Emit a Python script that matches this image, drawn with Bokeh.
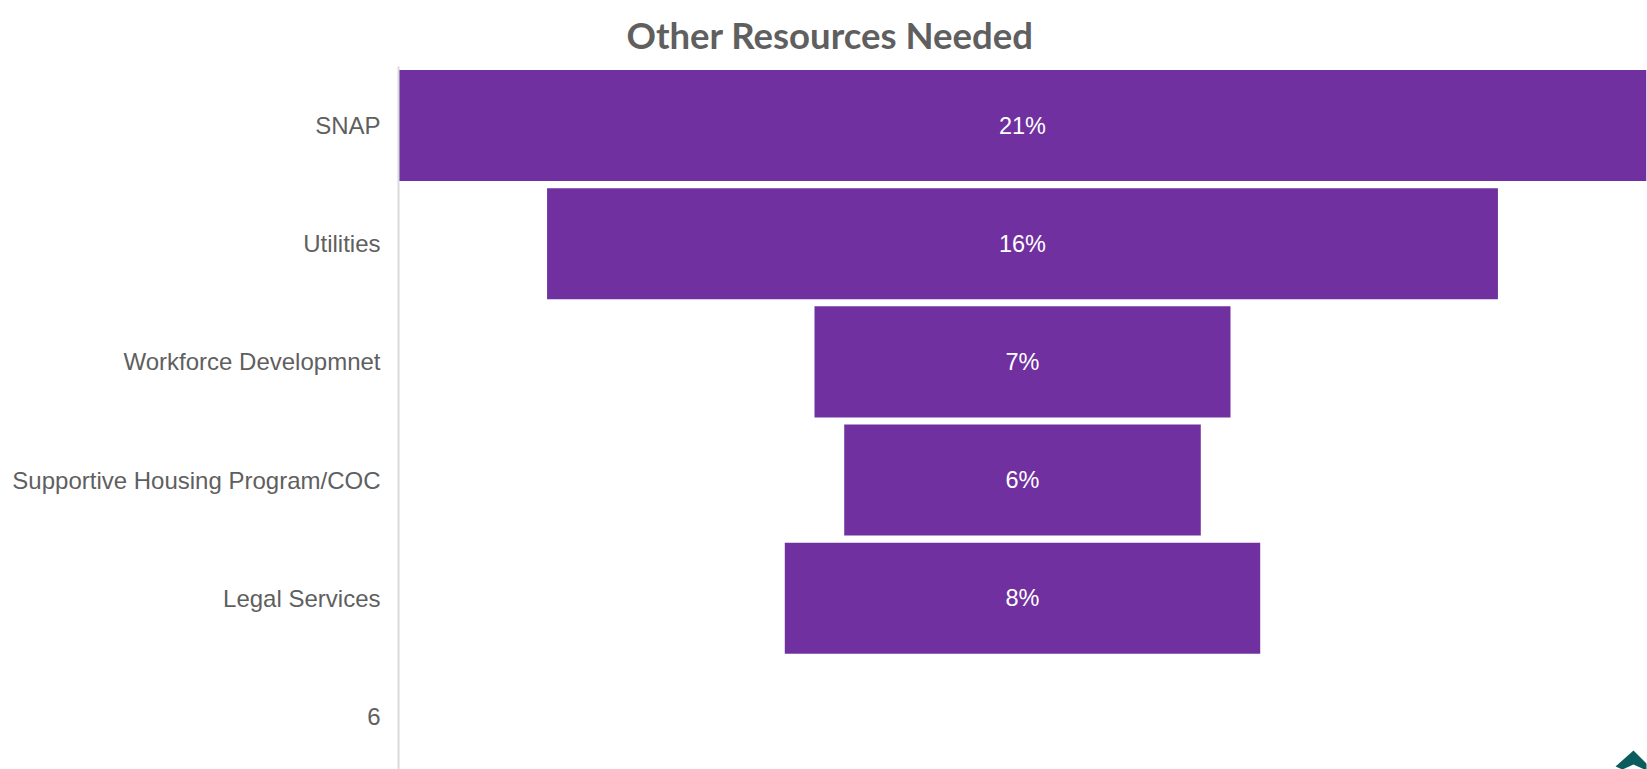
from bokeh.core.properties import value
from bokeh.embed import file_html
from bokeh.models import ColumnDataSource, PolyAnnotation, Range1d, Title
from bokeh.plotting import figure
from bokeh.resources import INLINE

categories = ["SNAP", "Utilities", "Workforce Developmnet",
              "Supportive Housing Program/COC", "Legal Services", "6"]
shares = [21, 16, 7, 6, 8]
title_text = "Other Resources Needed"

PURPLE = "#7030A0"
GREY = "#5F5F5F"
PAGE_HEIGHT = 769
FRAME_LEFT = 398
FRAME_TOP = 59

rows = list(range(1, len(categories) + 1))
half_span = max(shares) / 2

# Bars are centred on zero, which gives the funnel its symmetric outline.
source = ColumnDataSource(dict(
    row=rows[:len(shares)],
    left=[-s / 2 for s in shares],
    right=[s / 2 for s in shares],
    mid=[0] * len(shares),
    label=[f"{s}%" for s in shares],
))

p = figure(
    width=1647, height=PAGE_HEIGHT, output_backend="svg", toolbar_location=None,
    x_range=Range1d(-half_span, half_span),
    y_range=Range1d(6.45, 0.5),
    min_border_left=FRAME_LEFT, min_border_right=1, min_border_top=FRAME_TOP, min_border_bottom=0,
    outline_line_color=None, background_fill_color="white", border_fill_color="white",
    title=Title(text=title_text, align="left", offset=228, standoff=20,
                text_color=GREY, text_font="Lato", text_font_style="bold",
                text_font_size="36.5px"),
)

p.hbar(y="row", left="left", right="right", height=0.94, source=source,
       fill_color=PURPLE, line_color=None)

p.text(x="mid", y="row", text="label", source=source, text_color="white",
       text_align="center", text_baseline="middle",
       text_font=value("Liberation Sans"), text_font_size="23.5px")

p.xaxis.visible = False
p.xgrid.visible = False
p.ygrid.visible = False

yaxis = p.yaxis[0]
yaxis.ticker = rows
yaxis.major_label_overrides = {r: c for r, c in zip(rows, categories)}
yaxis.major_tick_line_color = None
yaxis.minor_tick_line_color = None
yaxis.axis_line_color = "#D9D9D9"
yaxis.axis_line_width = 2
yaxis.major_label_standoff = 12
yaxis.major_label_text_color = GREY
yaxis.major_label_text_font = "Liberation Sans"
yaxis.major_label_text_font_size = "24px"

# Corner house emblem, cut off by the page edge. Screen units here run from the
# frame's left edge and up from its bottom edge.
emblem_x = [1633, 1615, 1622, 1633, 1644, 1647, 1647]
emblem_y = [750, 766, 769, 764, 769, 769, 764]
p.add_layout(PolyAnnotation(
    xs=[x - FRAME_LEFT for x in emblem_x],
    ys=[PAGE_HEIGHT - y for y in emblem_y],
    xs_units="screen", ys_units="screen",
    fill_color="#0B5C5C", fill_alpha=1, line_color=None,
))

open("out.html", "w").write(file_html(p, INLINE))
